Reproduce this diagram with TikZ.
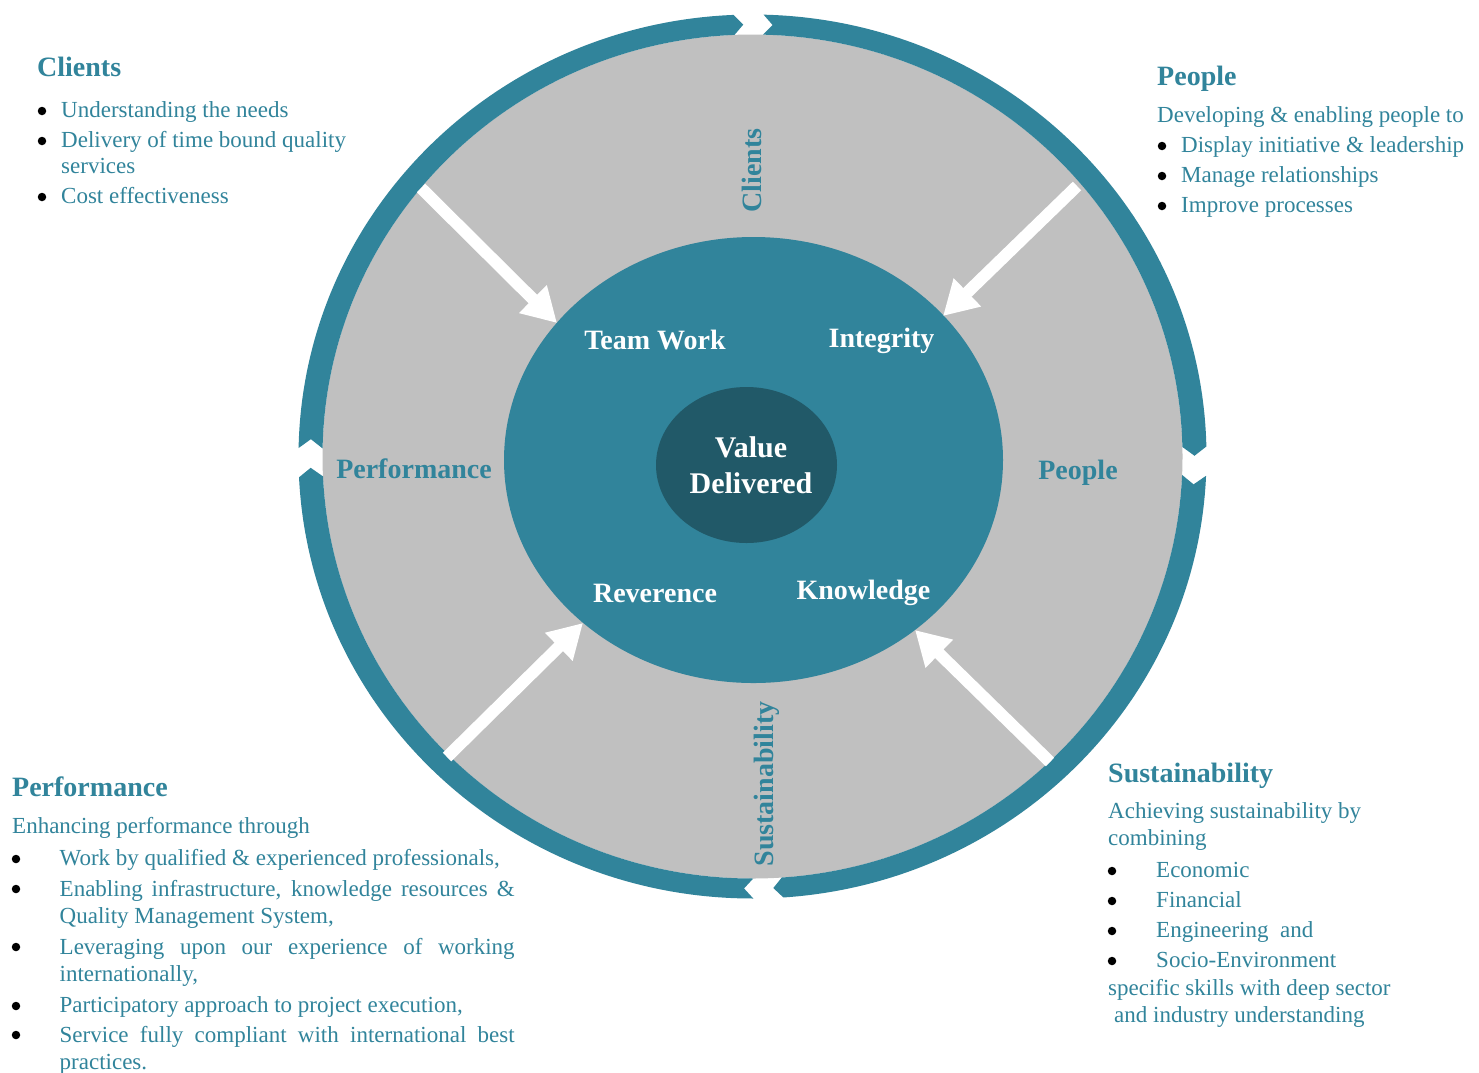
\documentclass[tikz,border=0pt]{standalone}
\usepackage{fontspec}
\setmainfont{Liberation Serif}
\usetikzlibrary{arrows.meta,shapes.geometric}
\definecolor{ringteal}{HTML}{31849B}
\definecolor{coredark}{HTML}{215968}
\definecolor{discgrey}{HTML}{C0C0C0}
\begin{document}
\begin{tikzpicture}[x=1pt,y=-1pt,
  body/.style={font=\fontsize{23}{28}\selectfont, text=ringteal, anchor=base west, inner sep=0pt},
  head/.style={font=\fontsize{28}{34}\selectfont\bfseries, text=ringteal, anchor=base west, inner sep=0pt},
  lbl/.style={font=\fontsize{28}{34}\selectfont\bfseries, text=ringteal, anchor=base, inner sep=0pt},
  wlbl/.style={font=\fontsize{28}{34}\selectfont\bfseries, text=white, anchor=base, inner sep=0pt},
  vlbl/.style={font=\fontsize{30}{36}\selectfont\bfseries, text=white, anchor=base, inner sep=0pt},
  bul/.style={circle, fill=black, inner sep=0pt, minimum size=8.5pt},
  warrow/.style={draw=white, line width=12pt, -{Triangle[length=34pt,width=37pt]}},
  seg/.style={fill=ringteal}
]
\useasboundingbox (0,0) rectangle (1479,1072);
\fill[white] (0,0) rectangle (1479,1072);

% grey disc and ring
\begin{scope}[shift={(752.5,456.5)}, y=1pt]
  \fill[discgrey] (0,0) ellipse [x radius=430pt, y radius=422pt];
  \foreach \s/\e in {90.5/-0.6, -0.6/-88, -88/-179.2, -179.2/-269.5}{
    \pgfmathsetmacro{\so}{\s-1.9}
    \pgfmathsetmacro{\sn}{\s-3.1}
    \pgfmathsetmacro{\eo}{\e+1.9}
    \pgfmathsetmacro{\ep}{\e+0.7}
    \fill[seg] (\so:454pt and 442pt)
      arc[start angle=\so, end angle=\eo, x radius=454pt, y radius=442pt]
      -- (\ep:442pt and 432pt)
      -- (\eo:430pt and 422pt)
      arc[start angle=\eo, end angle=\so, x radius=430pt, y radius=422pt]
      -- (\sn:442pt and 432pt) -- cycle;
  }
\end{scope}

% inner ellipses
\node[ellipse, fill=ringteal, inner sep=0pt, minimum width=499pt, minimum height=446pt] (core) at (753.5,460) {};
\node[ellipse, fill=coredark, inner sep=0pt, minimum width=181pt, minimum height=156pt] (value) at (746.5,465) {};

% arrows
\coordinate (a1s) at (421,188);  \coordinate (a1e) at (557,323);
\coordinate (a2s) at (1077,186); \coordinate (a2e) at (943,316);
\coordinate (a3s) at (447,757);  \coordinate (a3e) at (583,623);
\coordinate (a4s) at (1050,762); \coordinate (a4e) at (915,630);
\draw[warrow] (a1s) -- (a1e);
\draw[warrow] (a2s) -- (a2e);
\draw[warrow] (a3s) -- (a3e);
\draw[warrow] (a4s) -- (a4e);

% labels on the disc
\node[lbl, rotate=90] (lclients) at (761,170.5) {Clients};
\node[lbl] (lpeople) at (1078,479) {People};
\node[lbl] (lperf) at (414,478) {Performance};
\node[lbl, rotate=90] (lsust) at (773,784) {Sustainability};

% labels in core
\node[wlbl] (tteam) at (655,349) {Team Work};
\node[wlbl] (tint) at (881.5,347) {Integrity};
\node[wlbl] (trev) at (655,602) {Reverence};
\node[wlbl] (tknow) at (863.5,599) {Knowledge};
\node[vlbl] (tval1) at (751,457) {Value};
\node[vlbl] (tval2) at (751,493) {Delivered};

% Clients block
\node[head] (hclients) at (37,76) {Clients};
\node[bul] (cb1) at (42,111) {};
\node[bul] (cb2) at (42,141) {};
\node[bul] (cb3) at (42,197) {};
\node[body] (c1) at (61,117) {Understanding the needs};
\node[body] (c2) at (61,147) {Delivery of time bound quality};
\node[body] (c3) at (61,173) {services};
\node[body] (c4) at (61,203) {Cost effectiveness};

% People block
\node[head] (hpeople) at (1157,85) {People};
\node[body] (p0) at (1157,122) {Developing \& enabling people to};
\node[bul] (pb1) at (1162,146) {};
\node[bul] (pb2) at (1162,176) {};
\node[bul] (pb3) at (1162,206) {};
\node[body] (p1) at (1181,152) {Display initiative \& leadership};
\node[body] (p2) at (1181,182) {Manage relationships};
\node[body] (p3) at (1181,212) {Improve processes};

% Performance block
\node[head] (hperf) at (12,796) {Performance};
\node[body] (f0) at (12,833) {Enhancing performance through};
\node[bul] (fb1) at (16,859) {};
\node[bul] (fb2) at (16,889) {};
\node[bul] (fb3) at (16,947) {};
\node[bul] (fb4) at (16,1006) {};
\node[bul] (fb5) at (16,1035) {};
\node[body] (f1) at (59.5,865.6) {Work by qualified \& experienced professionals,};
\node[body] (f2) at (59.5,896) {\makebox[455pt][s]{Enabling infrastructure, knowledge resources \&}};
\node[body] (f3) at (59.5,923.7) {Quality Management System,};
\node[body] (f4) at (59.5,954) {\makebox[455pt][s]{Leveraging upon our experience of working}};
\node[body] (f5) at (59.5,981) {internationally,};
\node[body] (f6) at (59.5,1012.6) {Participatory approach to project execution,};
\node[body] (f7) at (59.5,1042) {\makebox[455pt][s]{Service fully compliant with international best}};
\node[body] (f8) at (59.5,1069) {practices.};

% Sustainability block
\node[head] (hsust) at (1108,782) {Sustainability};
\node[body] (s0) at (1108,818) {Achieving sustainability by};
\node[body] (s0b) at (1108,845) {combining};
\node[bul] (sb1) at (1112,871) {};
\node[bul] (sb2) at (1112,901) {};
\node[bul] (sb3) at (1112,931) {};
\node[bul] (sb4) at (1112,961) {};
\node[body] (s1) at (1156,877) {Economic};
\node[body] (s2) at (1156,907) {Financial};
\node[body] (s3) at (1156,937) {Engineering\ \ and};
\node[body] (s4) at (1156,967) {Socio-Environment};
\node[body] (s5) at (1108,995) {specific skills with deep sector};
\node[body] (s6) at (1114,1022) {and industry understanding};
\end{tikzpicture}
\end{document}
